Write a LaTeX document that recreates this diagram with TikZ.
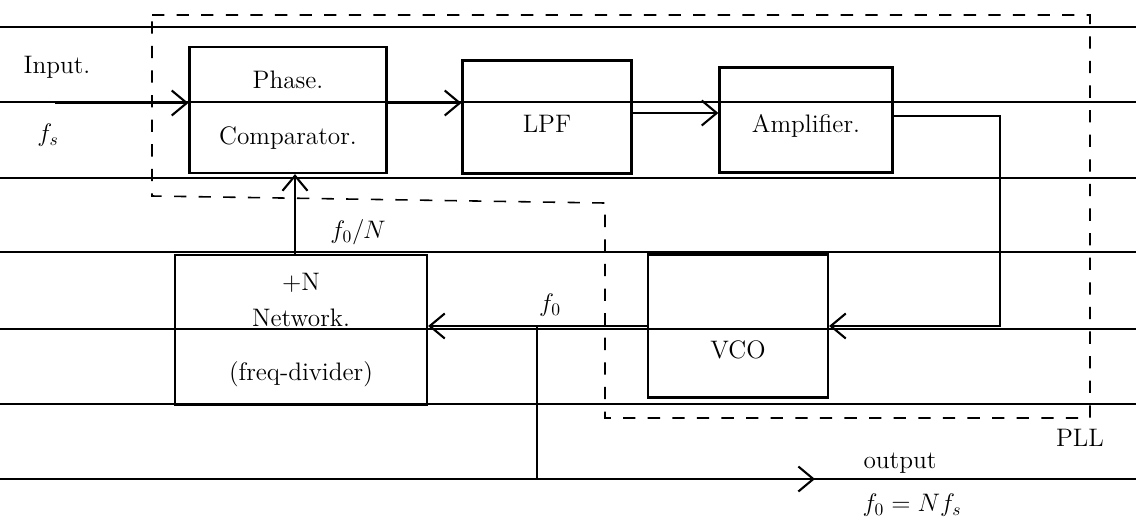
\documentclass[tikz,border=0pt]{standalone}
\usepackage{amsmath}
\usepackage{xcolor}
\usepackage{tikz}
\usetikzlibrary{arrows.meta, positioning}

\begin{document}
\begin{tikzpicture}[
    x=0.02cm, y=-0.02cm,
    block/.style={rectangle, draw, line width=1.3pt, align=center, inner sep=0pt, font=\Large},
    sig/.style={-{Straight Barb[length=3mm, width=5mm]}, line width=1.2pt},
    rule/.style={line width=1.4pt},
    pll/.style={dash pattern=on 7pt off 7pt, line width=0.9pt},
    lbl/.style={font=\Large},
]
\useasboundingbox (0,0) rectangle (1136,522);

% Ruled paper
\foreach \y in {27,102,178,252,329,404,479}
    \draw[rule] (0,\y) -- (1136,\y);

% Blocks
\node[block, minimum width=3.94cm, minimum height=2.52cm] (phase) at (288,110) {Phase.\\[0.5cm]Comparator.};
\node[block, minimum width=3.38cm, minimum height=2.26cm] (lpf) at (547,117) {\raisebox{-0.3cm}[0pt][0pt]{LPF}};
\node[block, minimum width=3.46cm, minimum height=2.1cm] (amp) at (806,120) {\raisebox{-0.25cm}[0pt][0pt]{Amplifier.}};
\node[block, minimum width=5.04cm, minimum height=3.0cm] (div) at (301,330) {+N\\[0.1cm]Network.\\[0.45cm](freq-divider)};
\node[block, minimum width=3.6cm, minimum height=2.86cm] (vco) at (738,326) {\raisebox{-0.65cm}[0pt][0pt]{VCO}};

% PLL boundary
\draw[pll] (152,15) -- (1090,15) -- (1090,418) -- (605,418) -- (605,203) -- (152,196) -- cycle;
\node[lbl] (plllbl) at (1080,438) {PLL};

% Labels
\node[lbl] (inlbl) at (57,67) {Input.};
\node[lbl] (fslbl) at (48,135) {$f_s$};
\node[lbl] (fnlbl) at (358,232) {$f_0/N$};
\node[lbl] (folbl) at (550,305) {$f_0$};
\node[lbl] (outlbl) at (900,463) {output};
\node[lbl] (eqlbl) at (912,505) {$f_0 = Nf_s$};

% Helper points
\coordinate (in) at (55,103);
\coordinate (mid) at (0,113);
\coordinate (turn) at (1000,116);
\coordinate (fb) at (295,0);
\coordinate (tap) at (537,326);
\coordinate (out) at (815,479);

% Arrows
\draw[sig] (in) -- (in -| phase.west);
\draw[sig] (phase.east |- in) -- (lpf.west |- in);
\draw[sig] (lpf.east |- mid) -- (amp.west |- mid);
\draw[sig] (amp.east |- turn) -- (turn) -- (turn |- vco.east) -- (vco.east);
\draw[sig] (vco.west) -- (vco.west -| div.east);
\draw[sig] (div.north -| fb) -- (phase.south -| fb);
\draw[sig] (tap) -- (tap |- out) -- (out);

\end{tikzpicture}
\end{document}
